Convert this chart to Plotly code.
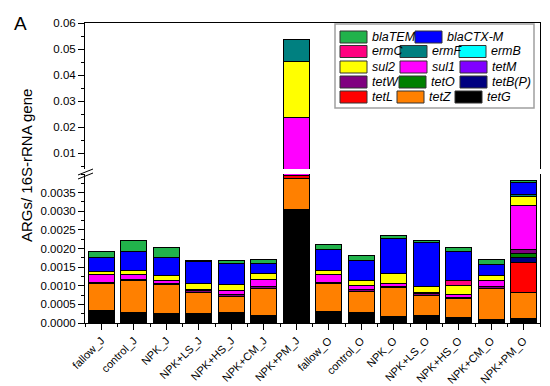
import plotly.graph_objects as go

categories = ["fallow_J", "control_J", "NPK_J", "NPK+LS_J", "NPK+HS_J", "NPK+CM_J", "NPK+PM_J",
              "fallow_O", "control_O", "NPK_O", "NPK+LS_O", "NPK+HS_O", "NPK+CM_O", "NPK+PM_O"]

# stacked from bottom to top
tetG = [0.00033, 0.00027, 0.00025, 0.00025, 0.00027, 0.00020, 0.00305, 0.00032, 0.00029, 0.00018, 0.00020, 0.00016, 0.00009, 0.00011]
tetZ = [0.00074, 0.00087, 0.00078, 0.00058, 0.00044, 0.00072, 0.00083, 0.00073, 0.00056, 0.00078, 0.00055, 0.00049, 0.00083, 0.00072]
tetL = [0, 0, 0, 0, 0, 0, 0.00008, 0, 0, 0, 0, 0, 0, 0.00079]
tetBP = [0, 0, 0, 0, 0, 0, 0, 0, 0, 0, 0, 0, 0, 0.00014]
tetO = [0, 0, 0, 0, 0, 0, 0, 0, 0, 0, 0, 0, 0, 0.00011]
tetW = [0.00003, 0.00004, 0.00003, 0.00003, 0.00005, 0.00005, 0, 0.00005, 0.00004, 0.00003, 0.00003, 0.00003, 0.00006, 0.00009]
tetM = [0, 0, 0, 0, 0, 0, 0, 0, 0, 0, 0, 0, 0, 0]
sul1 = [0.00019, 0.00013, 0.00009, 0.00005, 0.00011, 0.00021, 0.0198, 0.00019, 0.00013, 0.00008, 0.00004, 0.00008, 0.00016, 0.00120]
sul2 = [0.00008, 0.00009, 0.00013, 0.00014, 0.00017, 0.00016, 0.0216, 0.00011, 0.00011, 0.00025, 0.00015, 0.00025, 0.00013, 0.00024]
ermB = [0, 0, 0, 0, 0, 0, 0, 0, 0, 0, 0, 0, 0, 0]
ermF = [0, 0, 0, 0, 0, 0, 0.0084, 0, 0, 0, 0, 0, 0, 0.00005]
ermC = [0, 0, 0, 0, 0, 0, 0, 0, 0, 0, 0, 0.00012, 0, 0]
blaCTXM = [0.00040, 0.00053, 0.00049, 0.00059, 0.00057, 0.00025, 0, 0.00056, 0.00056, 0.00095, 0.00118, 0.00080, 0.00031, 0.00032]
blaTEM = [0.00015, 0.00029, 0.00025, 0.00005, 0.00007, 0.00012, 0, 0.00015, 0.00012, 0.00007, 0.00006, 0.00009, 0.00013, 0.00006]

genes = ["tetG", "tetZ", "tetL", "tetB(P)", "tetO", "tetW", "tetM", "sul1", "sul2",
         "ermB", "ermF", "ermC", "blaCTX-M", "blaTEM"]
series = [tetG, tetZ, tetL, tetBP, tetO, tetW, tetM, sul1, sul2, ermB, ermF, ermC, blaCTXM, blaTEM]
colors = {"tetG": "#000000", "tetZ": "#FF8000", "tetL": "#FF0000", "tetB(P)": "#000080",
          "tetO": "#008000", "tetW": "#800080", "tetM": "#8000FF", "sul1": "#FF00FF",
          "sul2": "#FFFF00", "ermB": "#00FFFF", "ermF": "#008080", "ermC": "#FF0080",
          "blaCTX-M": "#0000FF", "blaTEM": "#21B24B"}

lower_ticks = [0.0, 0.0005, 0.0010, 0.0015, 0.0020, 0.0025, 0.0030, 0.0035]
upper_ticks = [0.01, 0.02, 0.03, 0.04, 0.05, 0.06]

FONT = "Arial, 'Liberation Sans', sans-serif"
L, R, T, B = 77, 18, 15, 71
W, H = 550, 386
PW, PH = W - L - R, H - T - B

def px(xp):
    return (xp - L) / PW

def py(yp):
    return (T + PH - yp) / PH

xs = list(range(len(categories)))
fig = go.Figure()
for name, vals in zip(genes, series):
    v = [val if val > 0 else None for val in vals]
    for ax in ("y", "y2"):
        fig.add_trace(go.Bar(
            x=xs, y=v, name=name, yaxis=ax, xaxis="x" if ax == "y" else "x2",
            marker=dict(color=colors[name], line=dict(color="#000000", width=1)),
            width=0.8, showlegend=False, hoverinfo="name+y"))

lower_top = py(166)
upper_bot = py(161)

fig.update_layout(
    width=W, height=H, barmode="stack",
    margin=dict(l=L, r=R, t=T, b=B, autoexpand=False),
    paper_bgcolor="white", plot_bgcolor="white",
    font=dict(family=FONT, size=11, color="black"),
    xaxis=dict(domain=[0, 1], anchor="y", range=[-0.5, len(categories) - 0.5],
               tickmode="array", tickvals=xs, ticktext=categories, tickangle=-45,
               ticks="outside", ticklen=6, tickcolor="black", showline=True,
               linecolor="black", linewidth=1, showgrid=False, zeroline=False,
               tickfont=dict(size=11), automargin=False,
               minor=dict(tick0=0.5, dtick=1, ticks="outside", ticklen=3, tickcolor="black")),
    xaxis2=dict(domain=[0, 1], anchor="y2", matches="x", side="top", showticklabels=False,
                ticks="", showline=True, linecolor="black", linewidth=1, showgrid=False,
                zeroline=False, automargin=False),
    yaxis=dict(domain=[0, lower_top], range=[0, 0.004], tickmode="array",
               tickvals=lower_ticks, tickformat=".4f", ticks="outside", ticklen=6,
               tickcolor="black", showline=True, mirror=True, linecolor="black",
               linewidth=1, showgrid=False, zeroline=False, tickfont=dict(size=11.5),
               automargin=False,
               minor=dict(dtick=0.00025, ticks="outside", ticklen=3, tickcolor="black")),
    yaxis2=dict(domain=[upper_bot, 1], range=[0.004, 0.06], tickmode="array",
                tickvals=upper_ticks, tickformat=".2f", ticks="outside", ticklen=6,
                tickcolor="black", showline=True, mirror=True, linecolor="black",
                linewidth=1, showgrid=False, zeroline=False, tickfont=dict(size=11.5),
                automargin=False,
                minor=dict(tick0=0.005, dtick=0.005, ticks="outside", ticklen=3, tickcolor="black")),
)

shapes = []
# axis break marks
for dy in (0, 4):
    shapes.append(dict(type="line", xref="paper", yref="paper",
                       x0=px(70), y0=py(167 + dy), x1=px(85), y1=py(161 + dy),
                       line=dict(color="black", width=1)))

# legend (manual layout)
legend_rows = [["blaTEM", "blaCTX-M"], ["ermC", "ermF", "ermB"], ["sul2", "sul1", "tetM"],
               ["tetW", "tetO", "tetB(P)"], ["tetL", "tetZ", "tetG"]]
row_y = [29, 43.5, 59, 74, 89]
col_x = [[332, 407], [332, 392, 451], [332, 392, 452], [332, 391, 452], [332, 389, 447]]
shapes.append(dict(type="rect", xref="paper", yref="paper",
                   x0=px(327), y0=py(100), x1=px(526), y1=py(16),
                   line=dict(color="#A0A0A0", width=1.5), fillcolor="white", layer="above"))
annotations = []
for names, ycen, xcols in zip(legend_rows, row_y, col_x):
    for name, x0 in zip(names, xcols):
        shapes.append(dict(type="rect", xref="paper", yref="paper",
                           x0=px(x0), x1=px(x0 + 27), y0=py(ycen + 6), y1=py(ycen - 6),
                           fillcolor=colors[name], line=dict(color="#333333", width=1),
                           layer="above"))
        annotations.append(dict(x=px(x0 + 30), y=py(ycen), xref="paper", yref="paper",
                                text="<i>" + name + "</i>", showarrow=False,
                                xanchor="left", yanchor="middle",
                                font=dict(size=12.5, family=FONT, color="black")))

annotations.append(dict(x=px(18), y=py(157), xref="paper", yref="paper",
                        text="ARGs/ 16S-rRNA gene", textangle=-90, showarrow=False,
                        xanchor="center", yanchor="middle",
                        font=dict(size=15, family=FONT, color="black")))
annotations.append(dict(x=px(12), y=py(15), xref="paper", yref="paper",
                        text="A", showarrow=False, xanchor="center", yanchor="middle",
                        font=dict(size=19, family=FONT, color="black")))

fig.update_layout(shapes=shapes, annotations=annotations)
fig.write_html("out.html")
